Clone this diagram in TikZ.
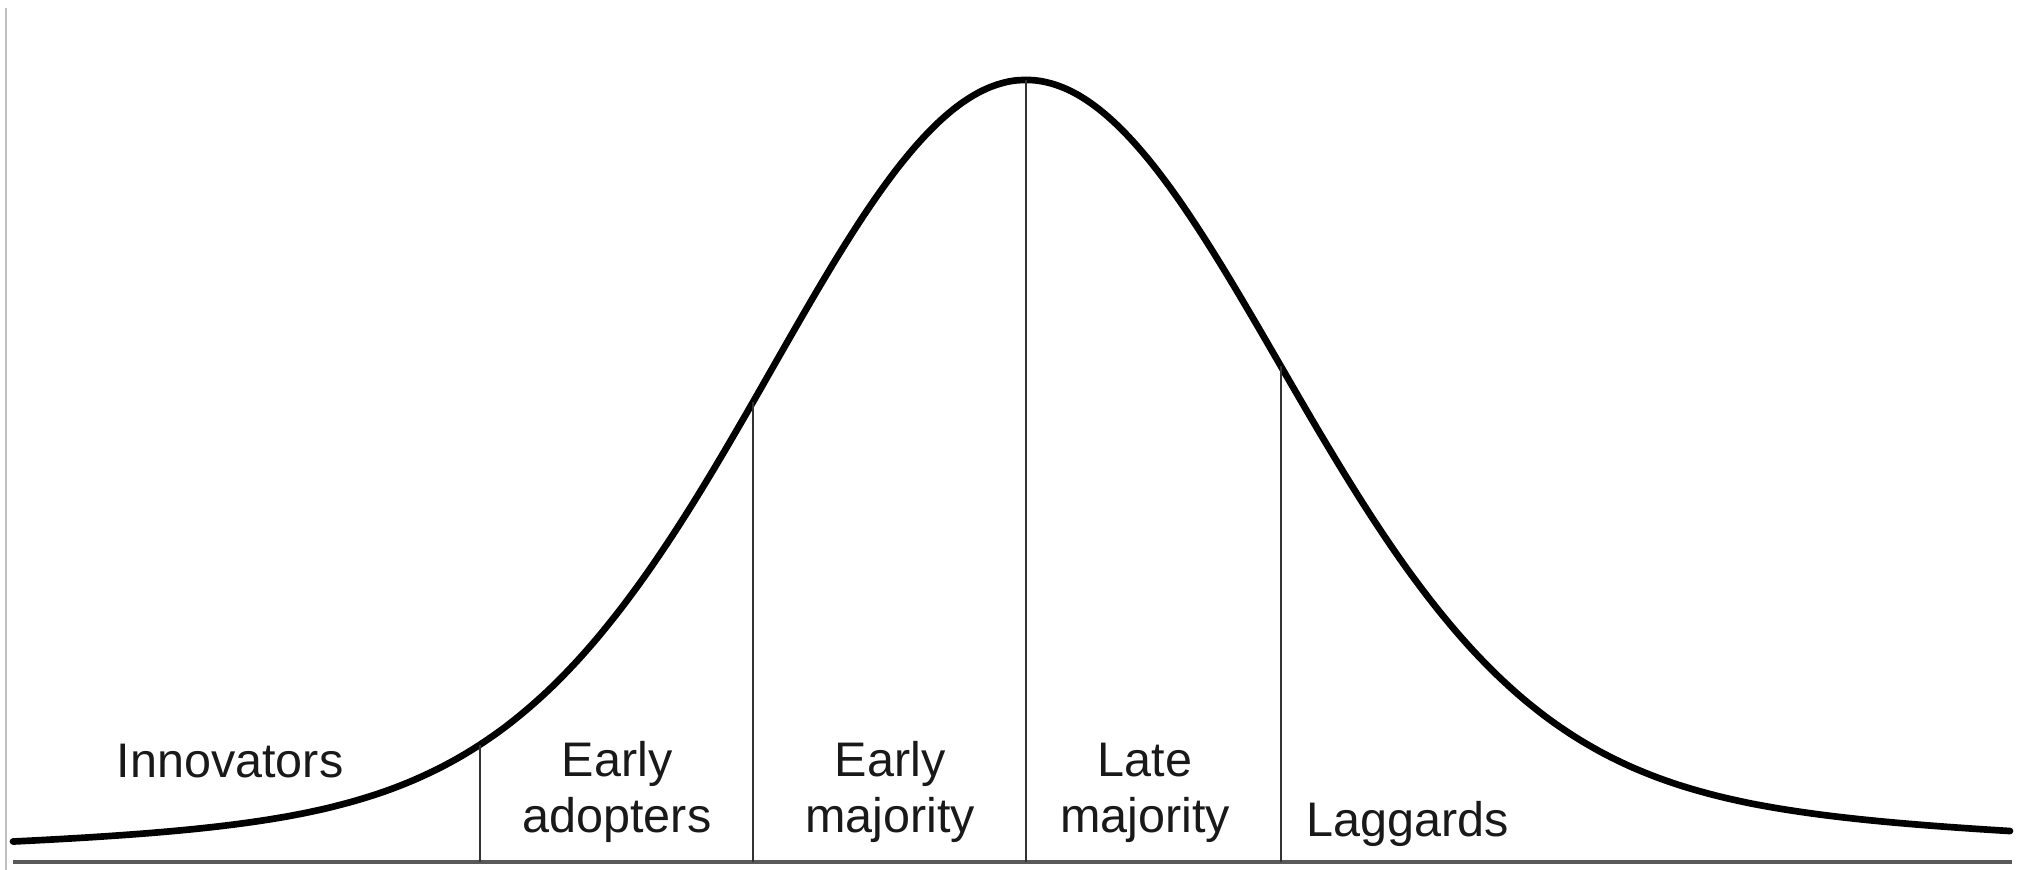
\documentclass[tikz,border=0pt]{standalone}
\usepackage{fontspec}
\setmainfont{Liberation Sans}
\usetikzlibrary{positioning}

\begin{document}
\begin{tikzpicture}[
    x=0.01cm,
    y=-0.01cm,
    declare function={
        bell(\t) = 862 - 679*exp(-0.5*((\t-1026)/250)^2)
                   - 103/cosh((\t-1026)/ifthenelse(\t<1026,439,523));
    },
    bellcurve/.style={
        line width=1.9pt,
        line join=round,
        line cap=round
    },
    divider/.style={
        line width=0.6pt,
        black!80
    },
    axisline/.style={
        line width=0.9pt,
        black!65
    },
    phase/.style={
        align=center,
        anchor=base,
        inner sep=0pt,
        text=black!90,
        font=\fontsize{13.8}{15.8}\selectfont
    }
]

\useasboundingbox (0,0) rectangle (2023,870);

% ==================================================
% Frame edge and axis
% ==================================================

\coordinate (edgeT) at (6,8);
\coordinate (edgeB) at (6,870);
\draw[line width=0.6pt, black!25] (edgeT) -- (edgeB);

\coordinate (axisL) at (13,862);
\coordinate (axisR) at (2012,862);
\draw[axisline] (axisL) -- (axisR);


% ==================================================
% Adoption curve
% ==================================================

\draw[bellcurve] plot[domain=13:2010, samples=220, smooth] (\x, {bell(\x)});


% ==================================================
% Dividers between groups
% ==================================================

\coordinate (top1) at (480, {bell(480)});
\coordinate (top2) at (753, {bell(753)});
\coordinate (top3) at (1026, {bell(1026)});
\coordinate (top4) at (1281, {bell(1281)});

\coordinate (bot1) at (480,862);
\coordinate (bot2) at (753,862);
\coordinate (bot3) at (1026,862);
\coordinate (bot4) at (1281,862);

\draw[divider] (bot1) -- (top1);
\draw[divider] (bot2) -- (top2);
\draw[divider] (bot3) -- (top3);
\draw[divider] (bot4) -- (top4);


% ==================================================
% Group labels (base = last line)
% ==================================================

\node[phase] (innov) at (230,777) {Innovators};

\node[phase] (earlyad) at (617,832) {Early\\adopters};

\node[phase] (earlymaj) at (890,832) {Early\\majority};

\node[phase] (latemaj) at (1145,832) {Late\\majority};

\node[phase] (lagg) at (1408,836) {Laggards};

\end{tikzpicture}
\end{document}
